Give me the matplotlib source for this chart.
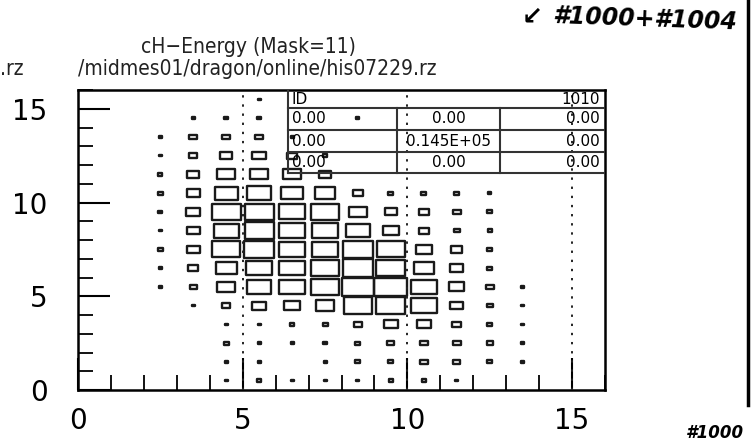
import numpy as np
import matplotlib
matplotlib.use("Agg")
import matplotlib.pyplot as plt
from matplotlib import font_manager
from matplotlib.font_manager import FontProperties
from matplotlib.patches import Rectangle
from matplotlib.collections import PatchCollection
from matplotlib.lines import Line2D

# 2D histogram contents, 16 x 16 bins of width 1 (rows listed from top y=15.5 down to y=0.5)
x_edges = np.arange(0, 17)
y_edges = np.arange(0, 17)
counts_top_down = [
    [0, 0, 0, 0, 0, 4, 0, 0, 0, 0, 0, 0, 0, 0, 0, 0],
    [0, 0, 0, 4, 7, 7, 0, 0, 4, 0, 0, 0, 0, 0, 0, 0],
    [0, 0, 4, 29, 29, 29, 4, 0, 0, 0, 0, 0, 0, 0, 0, 0],
    [0, 0, 4, 29, 66, 78, 46, 7, 0, 0, 0, 0, 0, 0, 0, 0],
    [0, 0, 7, 66, 133, 133, 133, 66, 0, 0, 0, 0, 0, 0, 0, 0],
    [0, 0, 11, 78, 222, 264, 202, 184, 46, 11, 11, 11, 4, 0, 0, 0],
    [0, 0, 7, 90, 360, 360, 310, 335, 149, 66, 46, 29, 11, 0, 0, 0],
    [0, 0, 4, 78, 264, 360, 287, 310, 243, 103, 46, 17, 7, 0, 0, 0],
    [0, 0, 11, 78, 335, 386, 310, 310, 413, 335, 103, 56, 11, 0, 0, 0],
    [0, 0, 4, 46, 184, 287, 287, 335, 413, 360, 184, 78, 11, 0, 0, 0],
    [0, 0, 4, 22, 149, 264, 287, 335, 470, 470, 287, 103, 29, 4, 0, 0],
    [0, 0, 0, 4, 29, 90, 103, 149, 360, 360, 287, 78, 17, 4, 0, 0],
    [0, 0, 0, 0, 4, 4, 7, 11, 29, 90, 90, 37, 11, 4, 0, 0],
    [0, 0, 0, 0, 11, 4, 4, 7, 11, 22, 29, 29, 17, 4, 0, 0],
    [0, 0, 0, 0, 4, 4, 0, 4, 11, 11, 29, 22, 11, 4, 0, 0],
    [0, 0, 0, 0, 4, 7, 4, 4, 4, 7, 7, 4, 0, 0, 0, 0],
]
x_ticks = [0, 5, 10, 15]
y_ticks = [0, 5, 10, 15]
grid_x = [5, 10, 15]

title_1 = "cH\u2212Energy (Mask=11)"
title_2 = "/midmes01/dragon/online/his07229.rz"
hist_id = "1010"
stat_rows = [
    ["0.00", "0.00", "0.00"],
    ["0.00", "0.145E+05", "0.00"],
    ["0.00", "0.00", "0.00"],
]


def narrow_font():
    """Look for an installed condensed sans face for the PAW-style titles"""
    for f in font_manager.fontManager.ttflist:
        st = str(f.stretch).lower()
        if "condensed" in st and "extra" not in st and "ultra" not in st \
                and f.style == "normal" and f.weight in (400, "normal", "regular"):
            return FontProperties(fname=f.fname), 15
    for f in font_manager.fontManager.ttflist:
        if "narrow" in f.name.lower() and f.style == "normal" and f.weight in (400, "normal"):
            return FontProperties(fname=f.fname), 15
    return FontProperties(family="DejaVu Sans"), 13


title_fp, title_size = narrow_font()
title_fp.set_size(title_size)

W, H = 752, 444
fig = plt.figure(figsize=(W / 100, H / 100), dpi=100)
ax = fig.add_axes([78 / W, 1 - 390 / H, 527 / W, 300 / H])
ax.set_xlim(x_edges[0], x_edges[-1])
ax.set_ylim(y_edges[0], y_edges[-1])

# boxes: area proportional to bin content
counts = np.array(counts_top_down)[::-1]
cmax = counts.max()
xc = (x_edges[:-1] + x_edges[1:]) / 2
yc = (y_edges[:-1] + y_edges[1:]) / 2
boxes = []
for j, y in enumerate(yc):
    for i, x in enumerate(xc):
        c = counts[j, i]
        if c <= 0:
            continue
        s = np.sqrt(c / cmax)
        boxes.append(Rectangle((x - s / 2, y - s / 2), s, s))
ax.add_collection(PatchCollection(boxes, facecolor="none", edgecolor="#1a1a1a",
                                  linewidth=1.7, zorder=3))

for gx in grid_x:
    ax.axvline(gx, color="#222222", lw=1.4, ls=(0, (1.2, 3.5)), zorder=4)

# axes styling
for sp in ax.spines.values():
    sp.set_linewidth(1.8)
ax.set_xticks(x_ticks)
ax.set_yticks(y_ticks)
ax.set_xticks(np.arange(0, 17), minor=True)
ax.set_yticks(np.arange(0, 17), minor=True)
ax.tick_params(which="major", direction="in", length=23, width=1.5, labelsize=20)
ax.tick_params(which="minor", direction="in", length=11, width=1.3)
ax.tick_params(axis="x", which="major", pad=12)
ax.tick_params(axis="y", which="major", pad=22)

# statistics box
tx0, tx1, tx2 = 0.398, 0.605, 0.801
row_y = [1.0, 0.94, 0.867, 0.793, 0.723]
ax.plot([tx0, tx0], [row_y[0], row_y[-1]], transform=ax.transAxes, color="#333", lw=1.5, zorder=5)
for ry in row_y[1:]:
    ax.plot([tx0, 1.0], [ry, ry], transform=ax.transAxes, color="#333", lw=1.5, zorder=5)
for cx in (tx1, tx2):
    ax.plot([cx, cx], [row_y[1], row_y[-1]], transform=ax.transAxes, color="#333", lw=1.5, zorder=5)
ax.text(tx0 + 0.008, (row_y[0] + row_y[1]) / 2, "ID", transform=ax.transAxes,
        fontsize=11, va="center", ha="left", zorder=6)
ax.text(0.99, (row_y[0] + row_y[1]) / 2, hist_id, transform=ax.transAxes,
        fontsize=11, va="center", ha="right", zorder=6)
for k, row in enumerate(stat_rows):
    ym = (row_y[k + 1] + row_y[k + 2]) / 2
    ax.text(tx0 + 0.008, ym, row[0], transform=ax.transAxes, fontsize=11,
            va="center", ha="left", zorder=6)
    ax.text((tx1 + tx2) / 2, ym, row[1], transform=ax.transAxes, fontsize=11,
            va="center", ha="center", zorder=6)
    ax.text(0.99, ym, row[2], transform=ax.transAxes, fontsize=11,
            va="center", ha="right", zorder=6)

# titles
fig.text(248 / W, 1 - 53 / H, title_1, ha="center", va="baseline",
         fontproperties=title_fp, color="#222")
fig.text(78 / W, 1 - 75 / H, title_2, ha="left", va="baseline",
         fontproperties=title_fp, color="#222")
fig.text(0, 1 - 75 / H, ".rz", ha="left", va="baseline",
         fontproperties=title_fp, color="#222")

# handwritten notes on the printout
fig.text(532 / W, 1 - 16 / H, "\u2199", ha="center", va="center",
         fontsize=18, fontweight="bold")
fig.text(552 / W, 1 - 29 / H, "#1000+#1004", ha="left", va="baseline",
         fontsize=17, fontweight="bold", fontstyle="italic", rotation=-2)
fig.text(686 / W, 1 - 438 / H, "#1000", ha="left", va="baseline",
         fontsize=12, fontweight="bold", fontstyle="italic")
fig.add_artist(Line2D([748 / W, 748 / W], [1 - 405 / H, 1.0],
                      transform=fig.transFigure, color="black", lw=2.5))

fig.savefig("out.png", dpi=100)
